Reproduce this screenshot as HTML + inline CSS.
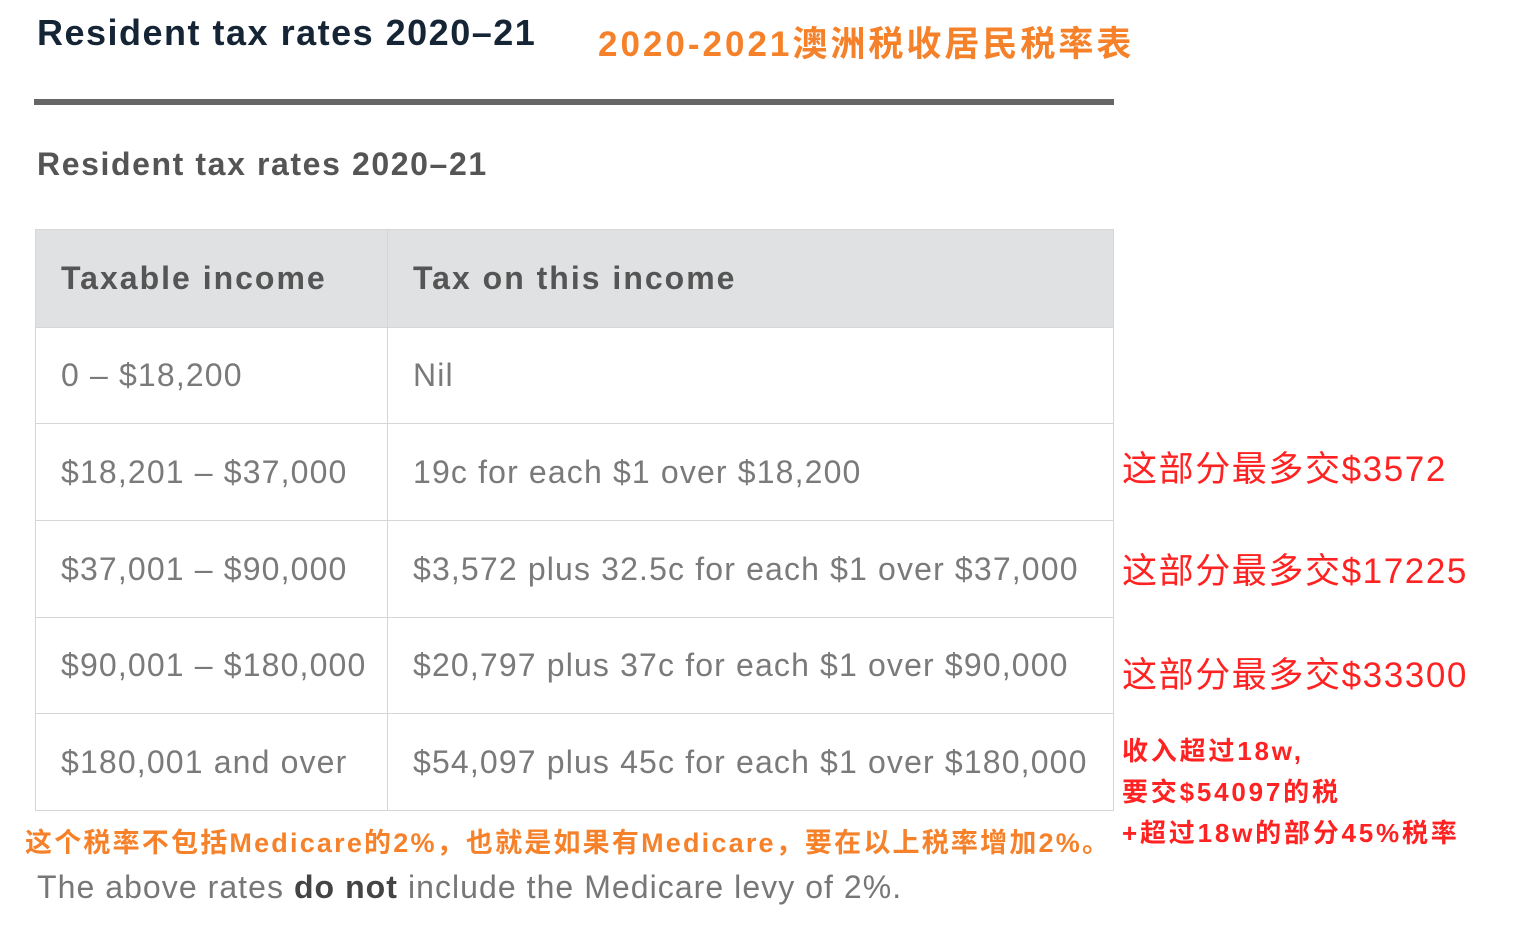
<!DOCTYPE html>
<html><head><meta charset="utf-8">
<style>
*{margin:0;padding:0;box-sizing:border-box}
body{width:1540px;height:930px;background:#fff;position:relative;overflow:hidden;font-family:"Liberation Sans","Noto Sans CJK SC",sans-serif}
.a{position:absolute;white-space:nowrap}
.cell{position:absolute;border:1.5px solid #d4d6d8;color:#7a7a7a;font-size:32px;display:flex;align-items:center;padding-left:25px;white-space:nowrap;letter-spacing:1.15px}
.hd{background:#dfe1e2;color:#555;font-weight:bold;font-size:32px;letter-spacing:2px}
.red{color:#f22;font-size:35px;letter-spacing:1.6px}
.reds{color:#f22;font-size:26px;font-weight:bold;letter-spacing:2.8px}
</style></head><body>
<div class="a" style="left:37px;top:12px;font-size:36px;font-weight:bold;color:#152535;letter-spacing:1.5px">Resident tax rates 2020–21</div>
<div class="a" style="left:598px;top:16px;font-size:35px;font-weight:bold;color:#f5822a;letter-spacing:3px">2020-2021澳洲税收居民税率表</div>
<div class="a" style="left:34px;top:99px;width:1080px;height:6px;background:#666"></div>
<div class="a" style="left:37px;top:146px;font-size:32px;font-weight:bold;color:#555;letter-spacing:1.6px">Resident tax rates 2020–21</div>

<div>
<div class="cell hd" style="left:35px;top:229px;width:353px;height:99px">Taxable income</div>
<div class="cell hd" style="left:387px;top:229px;width:727px;height:99px">Tax on this income</div>

<div class="cell" style="left:35px;top:327px;width:353px;height:97px">0 – $18,200</div>
<div class="cell" style="left:387px;top:327px;width:727px;height:97px">Nil</div>
<div class="cell" style="left:35px;top:423px;width:353px;height:98px">$18,201 – $37,000</div>
<div class="cell" style="left:387px;top:423px;width:727px;height:98px">19c for each $1 over $18,200</div>
<div class="cell" style="left:35px;top:520px;width:353px;height:98px">$37,001 – $90,000</div>
<div class="cell" style="left:387px;top:520px;width:727px;height:98px">$3,572 plus 32.5c for each $1 over $37,000</div>
<div class="cell" style="left:35px;top:617px;width:353px;height:97px">$90,001 – $180,000</div>
<div class="cell" style="left:387px;top:617px;width:727px;height:97px">$20,797 plus 37c for each $1 over $90,000</div>
<div class="cell" style="left:35px;top:713px;width:353px;height:98px">$180,001 and over</div>
<div class="cell" style="left:387px;top:713px;width:727px;height:98px">$54,097 plus 45c for each $1 over $180,000</div>
</div>

<div class="a red" style="left:1122px;top:441px">这部分最多交$3572</div>
<div class="a red" style="left:1122px;top:543px">这部分最多交$17225</div>
<div class="a red" style="left:1122px;top:647px">这部分最多交$33300</div>
<div class="a reds" style="left:1122px;top:731px">收入超过18w,</div>
<div class="a reds" style="left:1122px;top:772px">要交$54097的税</div>
<div class="a reds" style="left:1122px;top:813px">+超过18w的部分45%税率</div>

<div class="a" style="left:25px;top:821px;font-size:27px;font-weight:bold;color:#f5822a;letter-spacing:2.2px">这个税率不包括Medicare的2%，也就是如果有Medicare，要在以上税率增加2%。</div>
<div class="a" style="left:37px;top:869px;font-size:32px;color:#777;letter-spacing:1.05px">The above rates <b style="color:#444">do not</b> include the Medicare levy of 2%.</div>
</body></html>
